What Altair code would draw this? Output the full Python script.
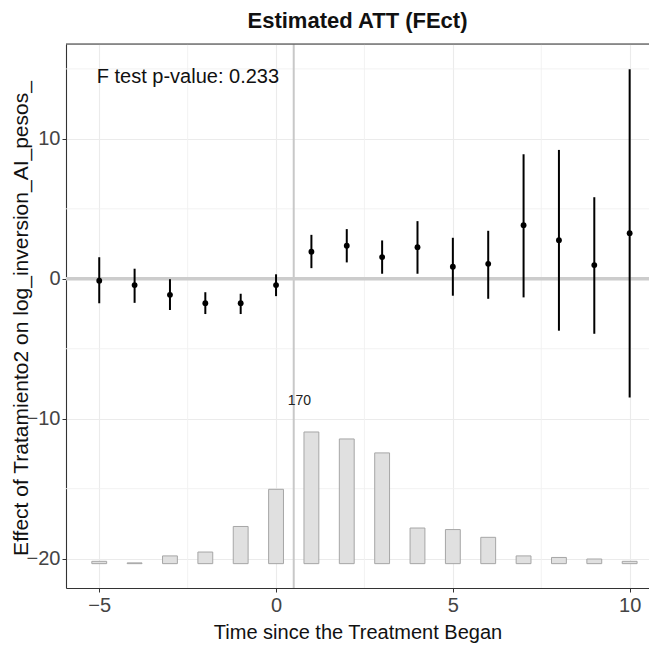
import altair as alt
import pandas as pd

# ---- data ----
time = list(range(-5, 11))
att = [-0.14, -0.45, -1.15, -1.74, -1.74, -0.45, 1.94, 2.36, 1.55, 2.26, 0.86, 1.07, 3.83, 2.76, 0.98, 3.26]
ci_lo = [-1.75, -1.72, -2.23, -2.52, -2.52, -1.24, 0.76, 1.17, 0.36, 0.36, -1.21, -1.43, -1.33, -3.71, -3.93, -8.48]
ci_hi = [1.54, 0.72, -0.03, -0.96, -1.07, 0.32, 3.14, 3.55, 2.74, 4.12, 2.93, 3.43, 8.90, 9.21, 5.83, 14.98]
counts = [3, 1, 10, 15, 48, 96, 170, 161, 143, 46, 44, 34, 10, 8, 6, 3]

x_major = [-5, 0, 5, 10]
x_minor = [-2.5, 2.5, 7.5]
y_major = [-20, -10, 0, 10]
y_minor = [-15, -5, 5, 15]
vline_at = [0.5]
hline_at = [0]
ftest_text = "F test p-value: 0.233"
max_count_label = str(max(counts))

FONT = "Liberation Sans"
BAR_BASE = -20.36
BAR_MAXH = 9.41
BAR_HALF = 0.21

X_DOMAIN = [-5.94, 10.547]
Y_DOMAIN = [-22.1, 16.78]

df = pd.DataFrame({"time": time, "att": att, "lo": ci_lo, "hi": ci_hi, "count": counts})

xs = alt.Scale(domain=X_DOMAIN, nice=False, zero=False)
ys = alt.Scale(domain=Y_DOMAIN, nice=False, zero=False)

x_axis = alt.Axis(values=x_major, grid=True, gridColor="#ebebeb", gridWidth=1.1,
                  domain=True, domainColor="#333333", domainWidth=1.1,
                  tickColor="#333333", tickSize=4, tickWidth=1,
                  labelFontSize=20, labelColor="#444444", labelFont=FONT, labelPadding=3,
                  titleFontSize=20, titleFont=FONT, titleColor="#111111",
                  titleFontWeight="normal", titlePadding=7, labelFlush=False)
y_axis = alt.Axis(values=y_major, grid=True, gridColor="#ebebeb", gridWidth=1.1,
                  domain=True, domainColor="#333333", domainWidth=1.1,
                  tickColor="#333333", tickSize=4, tickWidth=1,
                  labelFontSize=20, labelColor="#444444", labelFont=FONT, labelPadding=2,
                  titleFontSize=21, titleFont=FONT, titleColor="#111111",
                  titleFontWeight="normal", titleX=-45, titleY=274,
                  titleAngle=270, titleAlign="center", titleBaseline="middle",
                  labelFlush=False)

XT = "Time since the Treatment Began"
YT = "Effect of Tratamiento2 on log_inversion_AI_pesos_"


def X(field, **kw):
    return alt.X(field, type="quantitative", scale=xs, axis=x_axis, title=XT, **kw)


def Y(field, **kw):
    return alt.Y(field, type="quantitative", scale=ys, axis=y_axis, title=YT, **kw)


base = alt.Chart(df)

grid_x_minor = alt.Chart(pd.DataFrame({"v": x_minor})).mark_rule(
    color="#f0f0f0", strokeWidth=0.9).encode(x=X("v"))
grid_y_minor = alt.Chart(pd.DataFrame({"v": y_minor})).mark_rule(
    color="#f0f0f0", strokeWidth=0.9).encode(y=Y("v"))

top_border = alt.Chart(pd.DataFrame({"v": [Y_DOMAIN[1]]})).mark_rule(
    color="#333333", strokeWidth=1.1).encode(y=Y("v"))

vline = alt.Chart(pd.DataFrame({"v": vline_at})).mark_rule(
    color="#c8c8c8", strokeWidth=2).encode(x=X("v"))
hline = alt.Chart(pd.DataFrame({"v": hline_at})).mark_rule(
    color="#cccccc", strokeWidth=3.5).encode(y=Y("v"))

maxc = max(counts)
bars = base.transform_calculate(
    xl=f"datum.time - {BAR_HALF}",
    xr=f"datum.time + {BAR_HALF}",
    b0=f"{BAR_BASE}",
    b1=f"{BAR_BASE} + datum.count * {BAR_MAXH} / {maxc}",
).mark_rect(fill="#e0e0e0", stroke="#a6a6a6", strokeWidth=1).encode(
    x=X("xl"), x2="xr", y=Y("b0"), y2="b1")

errbars = base.mark_rule(color="black", strokeWidth=2).encode(
    x=X("time"), y=Y("lo"), y2="hi")
points = base.mark_point(filled=True, color="black", size=34, opacity=1).encode(
    x=X("time"), y=Y("att"))

ftest = alt.Chart(pd.DataFrame({"t": [ftest_text], "x": [-5.07], "y": [14.4]})).mark_text(
    align="left", baseline="middle", fontSize=20, font=FONT, color="#111111").encode(
    x=X("x"), y=Y("y"), text="t:N")

cnt_label = alt.Chart(pd.DataFrame({"t": [max_count_label], "x": [0.66], "y": [-8.71]})).mark_text(
    align="center", baseline="middle", fontSize=14, font=FONT, color="#222222").encode(
    x=X("x"), y=Y("y"), text="t:N")

chart = alt.layer(
    grid_x_minor, grid_y_minor, vline, hline, bars, errbars, points, ftest, cnt_label, top_border
).properties(
    width=583, height=544,
    title=alt.TitleParams("Estimated ATT (FEct)", fontSize=22, fontWeight="bold",
                          font=FONT, color="#111111", anchor="middle", frame="group",
                          baseline="alphabetic", offset=-7),
    autosize=alt.AutoSizeParams(type="none"),
    padding={"left": 58, "top": 36, "right": 0, "bottom": 55},
).configure_view(stroke=None).configure(background="white")

chart.save("out.html", embed_options={"renderer": "svg", "actions": False})
